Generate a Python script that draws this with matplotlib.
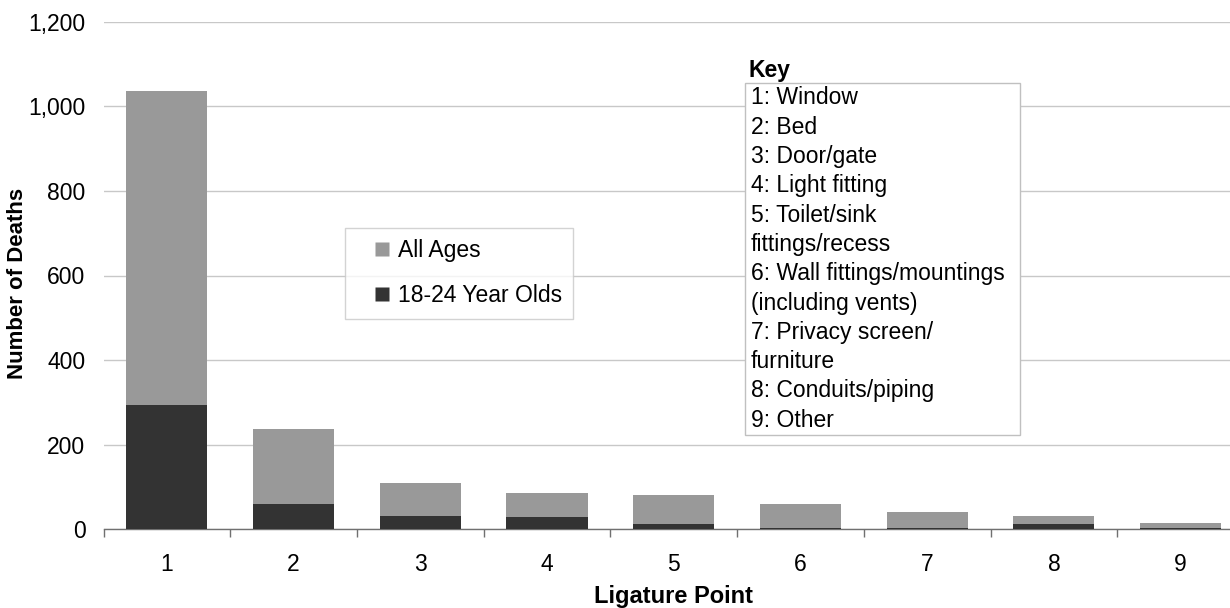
import matplotlib
matplotlib.use("Agg")
import matplotlib.pyplot as plt
from matplotlib.lines import Line2D
from matplotlib.patches import Rectangle
from matplotlib.ticker import FuncFormatter, FixedLocator, NullFormatter

plt.rcParams['font.family'] = ['Liberation Sans', 'DejaVu Sans']

categories = ['1', '2', '3', '4', '5', '6', '7', '8', '9']
all_ages = [1037, 236, 110, 86, 81, 60, 40, 31, 14]
young = [293, 60, 31, 29, 12, 3, 3, 12, 2]
key_lines = ['1: Window', '2: Bed', '3: Door/gate', '4: Light fitting', '5: Toilet/sink',
             'fittings/recess', '6: Wall fittings/mountings', '(including vents)',
             '7: Privacy screen/', 'furniture', '8: Conduits/piping', '9: Other']

W, H = 1230, 608
FS = 16.5
fig = plt.figure(figsize=(W / 100, H / 100), dpi=100)
left, right, top, bottom = 103.5, 1244, 22, 529
ax = fig.add_axes([left / W, 1 - bottom / H, (right - left) / W, (bottom - top) / H])

x = list(range(len(categories)))
ax.bar(x, all_ages, width=0.64, color='#999999', zorder=2)
ax.bar(x, young, width=0.64, color='#333333', zorder=3)

ax.set_xlim(-0.5, len(categories) - 0.5)
ax.set_ylim(0, 1200)
ax.set_yticks(range(0, 1201, 200))
ax.yaxis.set_major_formatter(FuncFormatter(lambda v, p: f"{int(v):,}"))
ax.grid(axis='y', color='#c8c8c8', linewidth=1, zorder=0)
ax.set_xticks(x)
ax.set_xticklabels(categories)
ax.tick_params(axis='x', length=0, labelsize=FS, pad=17)
ax.xaxis.set_minor_locator(FixedLocator([i - 0.5 for i in range(len(categories) + 1)]))
ax.xaxis.set_minor_formatter(NullFormatter())
ax.tick_params(axis='x', which='minor', length=6, color='#707070', width=1)
ax.tick_params(axis='y', length=0, labelsize=FS, pad=13)
for s in ['top', 'right', 'left']:
    ax.spines[s].set_visible(False)
ax.spines['bottom'].set_color('#707070')
ax.spines['bottom'].set_linewidth(1)

fig.text(18 / W, 1 - 283 / H, 'Number of Deaths', rotation=90, ha='center', va='center',
         fontsize=16, fontweight='bold')
fig.text(673 / W, 1 - 597 / H, 'Ligature Point', ha='center', va='center',
         fontsize=17, fontweight='bold')

handles = [Line2D([], [], linestyle='none', marker='s', markersize=9.4,
                  markerfacecolor='#999999', markeredgecolor='none', label='All Ages'),
           Line2D([], [], linestyle='none', marker='s', markersize=9.4,
                  markerfacecolor='#333333', markeredgecolor='none', label='18-24 Year Olds')]
leg = fig.legend(handles=handles, loc='upper left', bbox_to_anchor=(345 / W, 1 - 228 / H),
                 frameon=True, fancybox=False, fontsize=FS, handlelength=2.25,
                 handletextpad=-0.45, labelspacing=0.95, borderpad=0.5,
                 borderaxespad=0)
leg.get_frame().set_edgecolor('#c8c8c8')
leg.get_frame().set_linewidth(1)

# Key box
fig.patches.append(Rectangle((745 / W, 1 - 435 / H), (1020 - 745) / W, (435 - 83) / H,
                             transform=fig.transFigure, facecolor='white', edgecolor='#c0c0c0',
                             linewidth=1, zorder=5))
fig.text(748 / W, 1 - 70 / H, 'Key', ha='left', va='center', fontsize=FS,
         fontweight='bold', zorder=6)
for i, line in enumerate(key_lines):
    fig.text(751 / W, 1 - (98 + i * 29.3) / H, line, ha='left', va='center',
             fontsize=FS, zorder=6)

fig.savefig('out.png', dpi=100)
